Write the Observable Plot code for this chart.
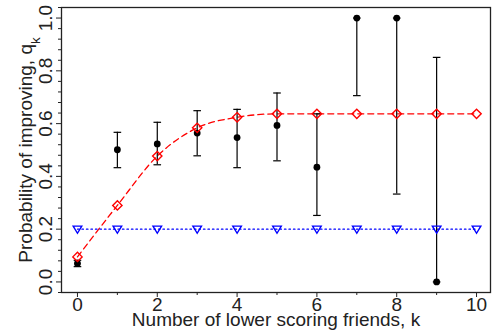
<!DOCTYPE html>
<html><head><meta charset="utf-8">
<script src="https://cdn.jsdelivr.net/npm/d3@7"></script>
<script src="https://cdn.jsdelivr.net/npm/@observablehq/plot@0.6"></script>
<style>
body{margin:0;background:#fff;}
#chart svg{display:block;}
</style>
</head><body><div id="chart"></div>
<script>
// Number of lower scoring friends
const k = [0, 1, 2, 3, 4, 5, 6, 7, 8, 9, 10];
// Observed probability of improving, with error bars
const observed = [0.070, 0.501, 0.523, 0.564, 0.547, 0.593, 0.435, 1.0, 1.0, 0.0, null];
const obsLower = [0.058, 0.433, 0.444, 0.478, 0.433, 0.459, 0.252, 0.706, 0.333, 0.0, null];
const obsUpper = [0.082, 0.567, 0.605, 0.649, 0.654, 0.716, 0.637, 1.0, 1.0, 0.851, null];
// Model (red diamonds) and baseline (blue triangles)
const model = [0.095, 0.290, 0.477, 0.584, 0.624, 0.637, 0.637, 0.637, 0.637, 0.637, 0.637];
const baseline = [0.2, 0.2, 0.2, 0.2, 0.2, 0.2, 0.2, 0.2, 0.2, 0.2, 0.2];
// Tick values
const xTicksMajor = [0, 2, 4, 6, 8, 10];
const xTicksMinor = [1, 3, 5, 7, 9];
const yTicksMajor = [0.0, 0.2, 0.4, 0.6, 0.8, 1.0];
const yTicksMinor = [-0.04, 0.04, 0.08, 0.12, 0.16, 0.24, 0.28, 0.32, 0.36, 0.44, 0.48, 0.52, 0.56,
  0.64, 0.68, 0.72, 0.76, 0.84, 0.88, 0.92, 0.96, 1.04];
const xLabel = "Number of lower scoring friends, k";
const yLabel = "Probability of improving, q";
const yLabelSub = "k";

const rows = k.map((kk, i) => ({k: kk, obs: observed[i], lo: obsLower[i], hi: obsUpper[i], model: model[i], base: baseline[i]}));
const obsRows = rows.filter(d => d.obs !== null);

const downTriangle = {draw(ctx, size) {
  const r = Math.sqrt(size / Math.PI);
  ctx.moveTo(-r, -r * 0.7); ctx.lineTo(r, -r * 0.7); ctx.lineTo(0, r * 0.95); ctx.closePath();
}};
const capSymbol = {draw(ctx, size) {
  const r = Math.sqrt(size / Math.PI);
  ctx.moveTo(-r, 0); ctx.lineTo(r, 0);
}};

const FONT = 19;
const chart = Plot.plot({
  width: 498, height: 332,
  marginLeft: 61, marginRight: 8, marginTop: 7, marginBottom: 40,
  style: {fontFamily: "'Liberation Sans', Arial, sans-serif", fontSize: FONT + "px", background: "#fff", color: "#222"},
  x: {domain: [-0.4, 10.35]},
  y: {domain: [-0.04, 1.04]},
  marks: [
    Plot.line(rows, {x: "k", y: "model", stroke: "#ff0000", strokeWidth: 1.3, strokeDasharray: "6,4", curve: "monotone-x"}),
    Plot.line(rows, {x: "k", y: "base", stroke: "#0000ff", strokeWidth: 1.3, strokeDasharray: "1.5,3"}),
    Plot.ruleX(obsRows, {x: "k", y1: "lo", y2: "hi", stroke: "#000", strokeWidth: 1.2}),
    Plot.dot(obsRows, {x: "k", y: "lo", symbol: capSymbol, r: 3.8, stroke: "#000", strokeWidth: 1.2}),
    Plot.dot(obsRows, {x: "k", y: "hi", symbol: capSymbol, r: 3.8, stroke: "#000", strokeWidth: 1.2}),
    Plot.dot(obsRows, {x: "k", y: "obs", r: 3.4, fill: "#000", stroke: null}),
    Plot.dot(rows, {x: "k", y: "model", symbol: "diamond2", r: 4.2, stroke: "#ff0000", strokeWidth: 1.4, fill: "none"}),
    Plot.dot(rows, {x: "k", y: "base", symbol: downTriangle, r: 4.3, stroke: "#0000ff", strokeWidth: 1.4, fill: "none"}),
    Plot.frame({stroke: "#222", strokeWidth: 1.3}),
    Plot.axisX(xTicksMajor, {anchor: "bottom", tickSize: 5, tickPadding: 0, label: null, fontSize: FONT, tickFormat: d => String(d)}),
    Plot.axisX(xTicksMinor, {anchor: "bottom", tickSize: 3, fill: "none", label: null}),
    Plot.axisY(yTicksMajor, {anchor: "left", tickSize: 5, fill: "none", label: null}),
    Plot.axisY(yTicksMinor, {anchor: "left", tickSize: 3, fill: "none", label: null}),
    Plot.text(yTicksMajor, {y: d => d, frameAnchor: "left", dx: -16, rotate: -90, textAnchor: "middle", lineAnchor: "middle", text: d => d.toFixed(1), fontSize: FONT, fill: "#222"}),
    Plot.text([xLabel], {frameAnchor: "bottom", dy: 27, textAnchor: "middle", lineAnchor: "middle", text: d => d, fontSize: FONT, fill: "#222"}),
    Plot.text([yLabel], {frameAnchor: "left", dx: -36, rotate: -90, textAnchor: "middle", lineAnchor: "middle", text: d => d, fontSize: FONT, fill: "#222"})
  ]
});
document.getElementById("chart").appendChild(chart);
// add the subscript k to the y-axis title
d3.select(chart).selectAll("text").filter(function() { return this.textContent === yLabel; })
  .append("tspan").attr("baseline-shift", "sub").attr("font-size", "70%").text(yLabelSub);
</script>
</body></html>
